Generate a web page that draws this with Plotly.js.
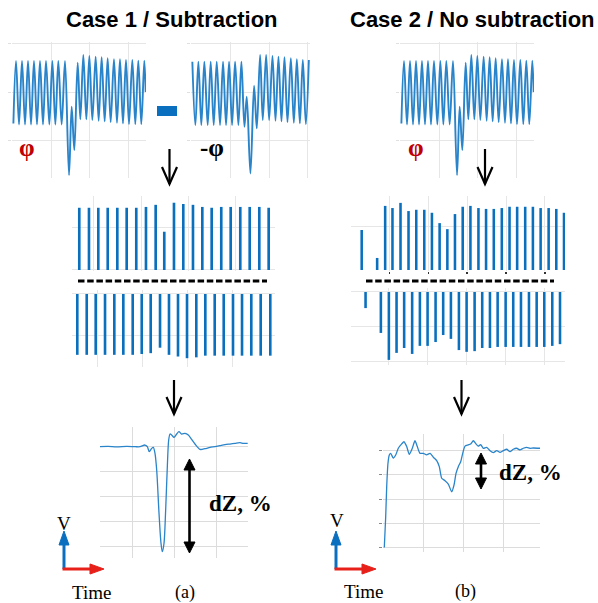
<!DOCTYPE html>
<html><head><meta charset="utf-8">
<script src="https://cdn.plot.ly/plotly-3.0.1.min.js"></script>
<style>html,body{margin:0;padding:0;background:#fff}#chart{width:598px;height:603px}</style>
</head><body><div id="chart"></div>
<script>
// ---------- data ----------
// phase signal (phi): time (grid units) and value at extrema
const phiT = [0.01,0.078,0.156,0.234,0.312,0.390,0.468,0.545,0.623,0.701,0.779,0.857,0.944,1.022,1.100,1.177,1.264,1.351,1.455,1.524,1.593,1.680,1.749,1.827,1.905,1.983,2.061,2.147,2.225,2.303,2.381,2.459,2.537,2.623,2.701,2.779,2.857,2.935,3.013,3.100,3.177,3.255,3.333,3.411,3.446];
const phiV = [-0.646,0.639,-0.667,0.639,-0.667,0.639,-0.667,0.639,-0.667,0.639,-0.667,0.639,-0.667,0.639,-0.667,0.639,-0.667,0.639,-1.711,-0.302,-1.196,0.605,-0.564,0.763,-0.564,0.742,-0.577,0.729,-0.591,0.715,-0.605,0.694,-0.619,0.674,-0.632,0.674,-0.646,0.660,-0.660,0.660,-0.660,0.646,-0.660,0.646,0.0];
// inverted phase signal (-phi)
const negPhiT = [0.009,0.087,0.165,0.242,0.320,0.407,0.485,0.563,0.641,0.727,0.805,0.883,0.961,1.039,1.117,1.203,1.281,1.359,1.420,1.515,1.610,1.680,1.766,1.835,1.922,2.000,2.087,2.165,2.242,2.320,2.398,2.476,2.563,2.641,2.719,2.797,2.874,2.952,3.030];
const negPhiV = [0.625,-0.680,0.625,-0.680,0.625,-0.680,0.625,-0.680,0.625,-0.680,0.625,-0.680,0.625,-0.680,0.625,-0.680,0.625,-0.715,-0.096,-1.677,0.131,-0.749,0.763,-0.577,0.763,-0.577,0.742,-0.591,0.729,-0.605,0.715,-0.619,0.694,-0.632,0.674,-0.646,0.660,-0.660,0.660];

// Case 1 pulses (upper / lower)
const c1UpT = [-0.311,-0.106,0.091,0.290,0.493,0.691,0.894,1.099,1.304,1.486,1.691,1.888,2.093,2.290,2.488,2.691,2.890,3.093,3.292,3.495,3.693];
const c1UpV = [1.48,1.48,1.48,1.48,1.48,1.48,1.48,1.50,1.55,0.91,1.60,1.57,1.55,1.50,1.48,1.50,1.50,1.50,1.50,1.50,1.48];
const c1LoT = [-0.435,-0.227,-0.029,0.177,0.382,0.581,0.788,0.987,1.185,1.391,1.589,1.788,1.987,2.192,2.391,2.598,2.797,3.002,3.201,3.406,3.613,3.825];
const c1LoV = [-1.45,-1.45,-1.45,-1.45,-1.45,-1.45,-1.45,-1.43,-1.41,-1.28,-1.45,-1.49,-1.53,-1.51,-1.47,-1.47,-1.47,-1.47,-1.47,-1.47,-1.47,-1.47];

// Case 2 pulses (upper / lower)
const c2UpT = [-0.715,-0.317,-0.111,0.077,0.284,0.490,0.689,0.895,1.092,1.290,1.489,1.685,1.884,2.083,2.289,2.485,2.684,2.890,3.089,3.285,3.492,3.690,3.889,4.095,4.292,4.490];
const c2UpV = [0.93,0.28,1.49,1.44,1.56,1.37,1.40,1.40,1.33,1.09,0.95,1.30,1.47,1.49,1.44,1.42,1.42,1.44,1.47,1.47,1.47,1.47,1.44,1.44,1.42,1.33];
const c2LoT = [-0.597,-0.205,0.0,0.197,0.392,0.597,0.795,0.992,1.197,1.392,1.590,1.795,1.992,2.197,2.392,2.590,2.787,2.992,3.187,3.385,3.590,3.787,3.982,4.187,4.385];
const c2LoV = [-0.46,-1.17,-1.94,-1.74,-1.60,-1.77,-1.54,-1.54,-1.43,-1.23,-1.34,-1.66,-1.71,-1.69,-1.60,-1.60,-1.57,-1.57,-1.57,-1.57,-1.57,-1.57,-1.57,-1.54,-1.49];

// resulting dZ signals
const resAT = [-0.795,-0.60,-0.394,-0.15,0.05,0.169,0.289,0.345,0.393,0.450,0.490,0.530,0.571,0.627,0.675,0.707,0.747,0.787,0.827,0.860,0.892,0.932,0.988,1.052,1.108,1.173,1.253,1.333,1.414,1.494,1.614,1.735,1.855,1.976,2.096,2.217,2.337,2.458,2.578,2.658,2.764];
const resAV = [0,0.01,-0.01,0.01,0,0,0.067,0,-0.2,-0.067,-0.027,-0.267,-0.933,-2.667,-3.867,-4.2,-3.867,-2.533,-0.8,0.267,0.507,0.467,0.373,0.507,0.6,0.507,0.533,0.467,0.293,0.107,-0.107,-0.08,-0.027,0,0.04,0.08,0.107,0.133,0.16,0.133,0.133];
const resBT = [-0.975,-0.94,-0.915,-0.883,-0.85,-0.815,-0.75,-0.69,-0.625,-0.54,-0.483,-0.415,-0.35,-0.275,-0.208,-0.15,-0.083,0,0.083,0.168,0.25,0.335,0.4,0.46,0.543,0.625,0.71,0.768,0.818,0.875,0.935,0.985,1.043,1.125,1.185,1.25,1.318,1.375,1.435,1.5,1.585,1.668,1.75,1.835,1.918,2.0,2.085,2.168,2.25,2.335,2.418,2.5,2.585,2.668,2.75,2.918];
const resBV = [-4.0,-2.73,-1.49,-0.52,-0.18,-0.11,-0.31,-0.18,0.1,0.28,0.37,0.17,-0.15,0.1,0.41,0.17,-0.11,-0.11,-0.17,-0.11,-0.27,-0.41,-0.66,-1.14,-1.24,-1.38,-1.70,-1.42,-0.94,-0.66,-0.46,-0.11,0.19,0.24,0.28,0.41,0.28,0.19,0.25,0.1,0.14,0,-0.08,0,-0.07,0,0.06,-0.04,0.06,0.1,0.03,0.1,0.14,0.1,0.11,0.1];

// texts
const titles = ["Case 1 / Subtraction", "Case 2 / No subtraction"];
const panelLabels = ["(a)", "(b)"];

// ---------- layout helpers ----------
const W = 598, H = 603;
const fx = x => x / W, fy = y => 1 - y / H;
const LINE = 'rgb(42,132,202)', BAR = 'rgb(10,112,190)';
const layout = {
  width: W, height: H, margin: {l:0, r:0, t:0, b:0},
  paper_bgcolor: '#fff', plot_bgcolor: 'rgba(0,0,0,0)', showlegend: false,
  shapes: [], annotations: []
};
function axes(n, x0, x1, y0, y1, xr, yr, extra) {
  extra = extra || {};
  const base = {showgrid:true, gridcolor:'#e6e6e6', gridwidth:1, zeroline:false, showticklabels:false,
                ticks:'', showline:false, dtick:1, tick0:0, fixedrange:true};
  layout['xaxis'+n] = Object.assign({}, base, {domain:[fx(x0), fx(x1)], range:xr, anchor:'y'+n}, extra.x||{});
  layout['yaxis'+n] = Object.assign({}, base, {domain:[fy(y1), fy(y0)], range:yr, anchor:'x'+n}, extra.y||{});
}
// panels
axes(1, 12, 146, 42, 178, [-0.026, 3.455], [-1.77, 1.03], {y:{ticks:'outside', ticklen:3, tickcolor:'#e0e0e0'}});
axes(2, 191, 310, 42, 178, [-0.026, 3.06], [-1.77, 1.03], {y:{ticks:'outside', ticklen:3, tickcolor:'#e0e0e0'}});
axes(3, 400, 534, 42, 178, [-0.026, 3.455], [-1.77, 1.03], {y:{ticks:'outside', ticklen:3, tickcolor:'#e0e0e0'}});
axes(4, 72, 275, 196, 271, [-0.465, 3.827], [-0.024, 1.76]);
axes(5, 72, 275, 290, 367, [-0.552, 3.929], [-1.74, 0.095]);
axes(6, 351, 565, 196, 271, [-0.99, 4.516], [-0.023, 1.72], {x:{ticks:'outside', ticklen:2, tickwidth:1.5, tickcolor:'#333'}});
axes(7, 351, 565, 288, 365, [-0.97, 4.513], [-2.086, 0.114]);
axes(8, 100, 248, 427, 558, [-0.795, 2.771], [-4.452, 0.788], {x:{gridcolor:'#dcdcdc'}, y:{gridcolor:'#dcdcdc'}});
axes(9, 383, 540, 434, 552, [-1.0075, 2.9175], [-4.19, 0.69], {x:{gridcolor:'#dcdcdc'}, y:{gridcolor:'#dcdcdc', ticks:'outside', ticklen:3, tickcolor:'#888'}});

const traces = [
  {x:phiT, y:phiV, xaxis:'x1', yaxis:'y1', mode:'lines', line:{color:LINE, width:1.9, shape:'spline', smoothing:1}},
  {x:negPhiT, y:negPhiV, xaxis:'x2', yaxis:'y2', mode:'lines', line:{color:LINE, width:1.9, shape:'spline', smoothing:1}},
  {x:phiT, y:phiV, xaxis:'x3', yaxis:'y3', mode:'lines', line:{color:LINE, width:1.9, shape:'spline', smoothing:1}},
  {x:c1UpT, y:c1UpV, xaxis:'x4', yaxis:'y4', type:'bar', width:0.056, marker:{color:BAR, line:{width:0}}},
  {x:c1LoT, y:c1LoV, xaxis:'x5', yaxis:'y5', type:'bar', width:0.058, marker:{color:BAR, line:{width:0}}},
  {x:c2UpT, y:c2UpV, xaxis:'x6', yaxis:'y6', type:'bar', width:0.066, marker:{color:BAR, line:{width:0}}},
  {x:c2LoT, y:c2LoV, xaxis:'x7', yaxis:'y7', type:'bar', width:0.066, marker:{color:BAR, line:{width:0}}},
  {x:resAT, y:resAV, xaxis:'x8', yaxis:'y8', mode:'lines', line:{color:LINE, width:1.3, shape:'spline', smoothing:0.8}},
  {x:resBT, y:resBV, xaxis:'x9', yaxis:'y9', mode:'lines', line:{color:LINE, width:1.3, shape:'spline', smoothing:0.6}}
];

// ---------- decorations (pixel -> paper) ----------
function P(pts, close) {
  return pts.map((p,i)=> (i?'L':'M') + fx(p[0]).toFixed(5) + ',' + fy(p[1]).toFixed(5)).join(' ') + (close?' Z':'');
}
function shp(path, color, width, fill) {
  layout.shapes.push({type:'path', xref:'paper', yref:'paper', path:path,
    line:{color:color, width:width}, fillcolor: fill || 'rgba(0,0,0,0)'});
}
function downArrow(x, y0, y1) {
  shp(P([[x,y0],[x,y1]]), '#000', 2.2);
  shp(P([[x-7.5,y1-17],[x,y1],[x+7.5,y1-17]]), '#000', 2.2);
}
function dblArrow(x, y0, y1) {
  shp(P([[x,y0+8],[x,y1-8]]), '#000', 2.6);
  shp(P([[x,y0],[x-5.5,y0+11],[x+5.5,y0+11]], true), '#000', 1, '#000');
  shp(P([[x,y1],[x-5.5,y1-11],[x+5.5,y1-11]], true), '#000', 1, '#000');
}
function axesGlyph(x, y, xr) {
  shp(P([[x,y],[x,y-26]]), '#0a6fbf', 3);
  shp(P([[x,y-38],[x-5,y-24],[x+5,y-24]], true), '#0a6fbf', 1, '#0a6fbf');
  shp(P([[x-1.5,y],[xr-12,y]]), '#e8201a', 3);
  shp(P([[xr,y],[xr-14,y-5],[xr-14,y+5]], true), '#e8201a', 1, '#e8201a');
}
// minus sign
layout.shapes.push({type:'rect', xref:'paper', yref:'paper', x0:fx(157), x1:fx(177), y0:fy(116), y1:fy(106),
  fillcolor:'#0a6fbf', line:{width:0}});
downArrow(169.5, 149, 184);
downArrow(485, 149, 184);
downArrow(174, 380, 414);
downArrow(461.5, 380, 414);
dblArrow(189.5, 459, 553);
dblArrow(481, 453, 489);
axesGlyph(64, 569, 104);
axesGlyph(336, 569, 376);
// dashed separators
[[78, 267], [366, 554]].forEach(([a,b]) => layout.shapes.push({type:'line', xref:'paper', yref:'paper',
  x0:fx(a), x1:fx(b), y0:fy(281), y1:fy(281), line:{color:'#000', width:3, dash:'6.5px,2.7px'}}));

function txt(s, x, y, font) {
  layout.annotations.push({text:s, xref:'paper', yref:'paper', x:fx(x), y:fy(y), showarrow:false,
    xanchor:'center', yanchor:'middle', font:font});
}
const SANSB = {family:'Liberation Sans, Arial, sans-serif', size:22, color:'#000', weight:'bold'};
txt('<b>'+titles[0]+'</b>', 172, 20, SANSB);
txt('<b>'+titles[1]+'</b>', 472, 20, SANSB);
const PHI = {family:'Liberation Serif, Times New Roman, serif', size:25, color:'#c00000'};
txt('<b>φ</b>', 27, 147, PHI);
txt('<b>-φ</b>', 212, 147, Object.assign({}, PHI, {color:'#000'}));
txt('<b>φ</b>', 416, 147, PHI);
const DZ = {family:'Liberation Serif, Times New Roman, serif', size:23, color:'#000'};
txt('<b>dZ, %</b>', 240, 503, DZ);
txt('<b>dZ, %</b>', 530, 472, DZ);
const SER = {family:'Liberation Serif, Times New Roman, serif', size:19, color:'#000'};
txt('V', 64, 523, SER);
txt('V', 337, 520, SER);
txt('Time', 91, 592, SER);
txt('Time', 363, 591, SER);
txt(panelLabels[0], 185, 592, Object.assign({}, SER, {size:18}));
txt(panelLabels[1], 465, 591, Object.assign({}, SER, {size:18}));

Plotly.newPlot('chart', traces, layout, {displayModeBar:false, staticPlot:true});
</script></body></html>
